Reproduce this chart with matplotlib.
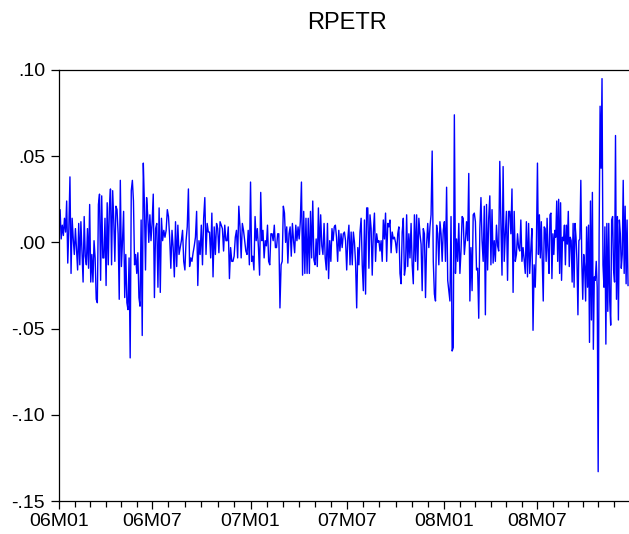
import matplotlib.pyplot as plt
import numpy as np

plt.rcParams['font.family'] = ['Liberation Sans', 'DejaVu Sans']

# daily returns of PETR, in thousandths, one list per half-year
r_06h1 = [5, 19, 2, 10, 4, 14, 6, 24, -12, 8, 38, -18, 14, 2, -7, 8, -4, -16, 11, -13,
          12, -5, -23, 15, -8, -13, 8, -15, 22, -23, -7, -23, 1, -9, -33, -35, 22, 28, -22, 27,
          -9, -9, 14, -25, 23, -13, 20, 31, -13, 30, 13, -11, 21, 19, 5, -33, 36, -14, 1, 18,
          -32, -7, -35, -39, -9, -67, 30, 36, 24, -13, -7, -18, -6, -32, -37, 13, -54, 46, 22, -16,
          26, 16, 0, 16, 1]
r_06h2 = [11, 28, -32, 8, 11, -26, 20, -29, 14, 1, 7, 3, 7, 19, 15, 3, -15, 7, -3, -20,
          12, -14, 10, -7, -3, 1, 7, -11, -16, 1, 9, 31, -14, -9, -11, -6, -2, 3, 18, -25,
          1, -7, 10, -13, 14, 26, -7, 11, 6, 6, -9, 17, -20, 9, -7, 11, 8, -6, 12, 10,
          8, -5, 10, 1, 1, 9, -21, -3, -11, -11, -8, 3, 7, -9, 21, 9, -9, 11, 7, 1,
          -5, -7, 7, -13]
r_07h1 = [35, -11, -8, -16, 15, 1, 8, -3, -19, 29, 1, 7, -9, 1, -2, 10, -11, -13, 5, 5,
          1, 10, -3, -3, 5, 5, -38, -13, -11, 21, 17, 0, 9, -12, 5, 9, -8, 11, 1, -6,
          10, 1, 9, 2, 12, 35, -19, 18, -18, 14, -18, 14, -18, 18, -9, 24, -10, -13, 2, -14,
          20, -7, 16, -2, -7, 11, -9, -16, 11, -21, 1, -11, 8, 1, 9, 10, 3, -11, 7, -5,
          5, -3, 5, 6, 1]
r_07h2 = [-16, 2, 10, -13, 6, -13, 6, 0, -12, -38, -3, -13, 6, 14, -13, -28, 13, -30, 20, 20,
          -15, 16, 8, -19, 6, 17, -11, 5, 0, 1, -5, 1, -11, 13, 2, 17, -11, 11, 9, 13,
          -6, 6, 2, 3, 0, -6, 5, 9, -18, -24, 6, 14, -19, -14, 16, -14, 5, -9, 11, -13,
          -24, 16, -11, 16, -16, 14, 5, -1, -28, 8, 5, -32, -1, 11, -3, 9, 16, 53, -11, -30,
          -34, 10, 5, -13, 12, 5, -11, 7]
r_08h1 = [12, -11, 32, -22, -28, -34, 15, -63, -61, 74, -18, 2, -11, 11, -18, -5, 15, 14, -7, 1,
          12, 1, 40, -34, -3, -28, 16, 17, 12, -16, -15, -44, 8, 26, 1, -11, 21, -42, 22, -16,
          14, 27, -13, 19, -12, 1, -11, 10, -2, -5, 47, 11, -19, 44, -11, 5, 18, -22, 18, 18,
          5, 31, -29, 18, -11, -7, 5, -3, -5, 13, -11, -3, -10, -18, 12, -20, 11, -18, -4, 8,
          -51, -13, -26, -3]
r_08h2 = [46, -7, 16, -9, 12, -11, -34, 9, 8, -11, 14, -5, -18, 16, 17, -21, 5, -7, 7, 3, 24,
          -11, 25, -18, 23, -22, 3, 1, 10, -13, 10, -1, 18, -14, 3, 1, -23, 11, -26, 11, 3,
          -11, -42, 1, 2, 36, -11, -33, -7, -14, -34, 9, -26, 10, -58, 24, -45, 29, -62, -20, -22,
          -11, -26, -133, 5, 79, 43, 95, -13, -26, 9, -59, 11, -40, 11, -34, -48, 13, 15, -16, -23,
          62, -33, 15, -45, 13, 5, -15, -7, 36, -18, 21, -24, 13, -25]

halves = [r_06h1, r_06h2, r_07h1, r_07h2, r_08h1, r_08h2]
# trading days in each half-year (the x axis counts observations)
days = [121, 128, 125, 127, 121, 119]
tick_labels = ["06M01", "06M07", "07M01", "07M07", "08M01", "08M07"]
y_ticks = [0.10, 0.05, 0.0, -0.05, -0.10, -0.15]
y_labels = [".10", ".05", ".00", "-.05", "-.10", "-.15"]

starts = np.concatenate([[0], np.cumsum(days)[:-1]])
total = sum(days)

xs, ys = [], []
for h, s, d in zip(halves, starts, days):
    n = len(h)
    xs.append(s + d * np.arange(n) / n)
    ys.append(np.array(h) / 1000.0)
x = np.concatenate(xs)
y = np.concatenate(ys)

# month starts, six per half-year
minor = np.concatenate([s + d * np.arange(6) / 6 for s, d in zip(starts, days)])

fig = plt.figure(figsize=(6.29, 5.34), dpi=100)
ax = fig.add_axes([59 / 629, 1 - 501 / 534, 570 / 629, 431 / 534])
ax.plot(x, y, color='#0000ff', lw=1.0)

ax.set_xlim(0, total)
ax.set_ylim(-0.15, 0.10)
ax.set_xticks(starts)
ax.set_xticklabels(tick_labels)
ax.set_xticks(minor, minor=True)
ax.set_yticks(y_ticks)
ax.set_yticklabels(y_labels)

ax.spines['right'].set_visible(False)
for s in ['left', 'top', 'bottom']:
    ax.spines[s].set_linewidth(0.9)
ax.tick_params(axis='x', which='major', direction='out', length=6, width=0.9,
               labelsize=14, pad=3)
ax.tick_params(axis='x', which='minor', direction='out', length=4, width=0.9)
ax.tick_params(axis='y', which='major', direction='out', length=6, width=0.9,
               labelsize=14, pad=4)

fig.text(347 / 629, 1 - 23 / 534, "RPETR", ha='center', va='center', fontsize=17)

fig.savefig("out.png", dpi=100)
